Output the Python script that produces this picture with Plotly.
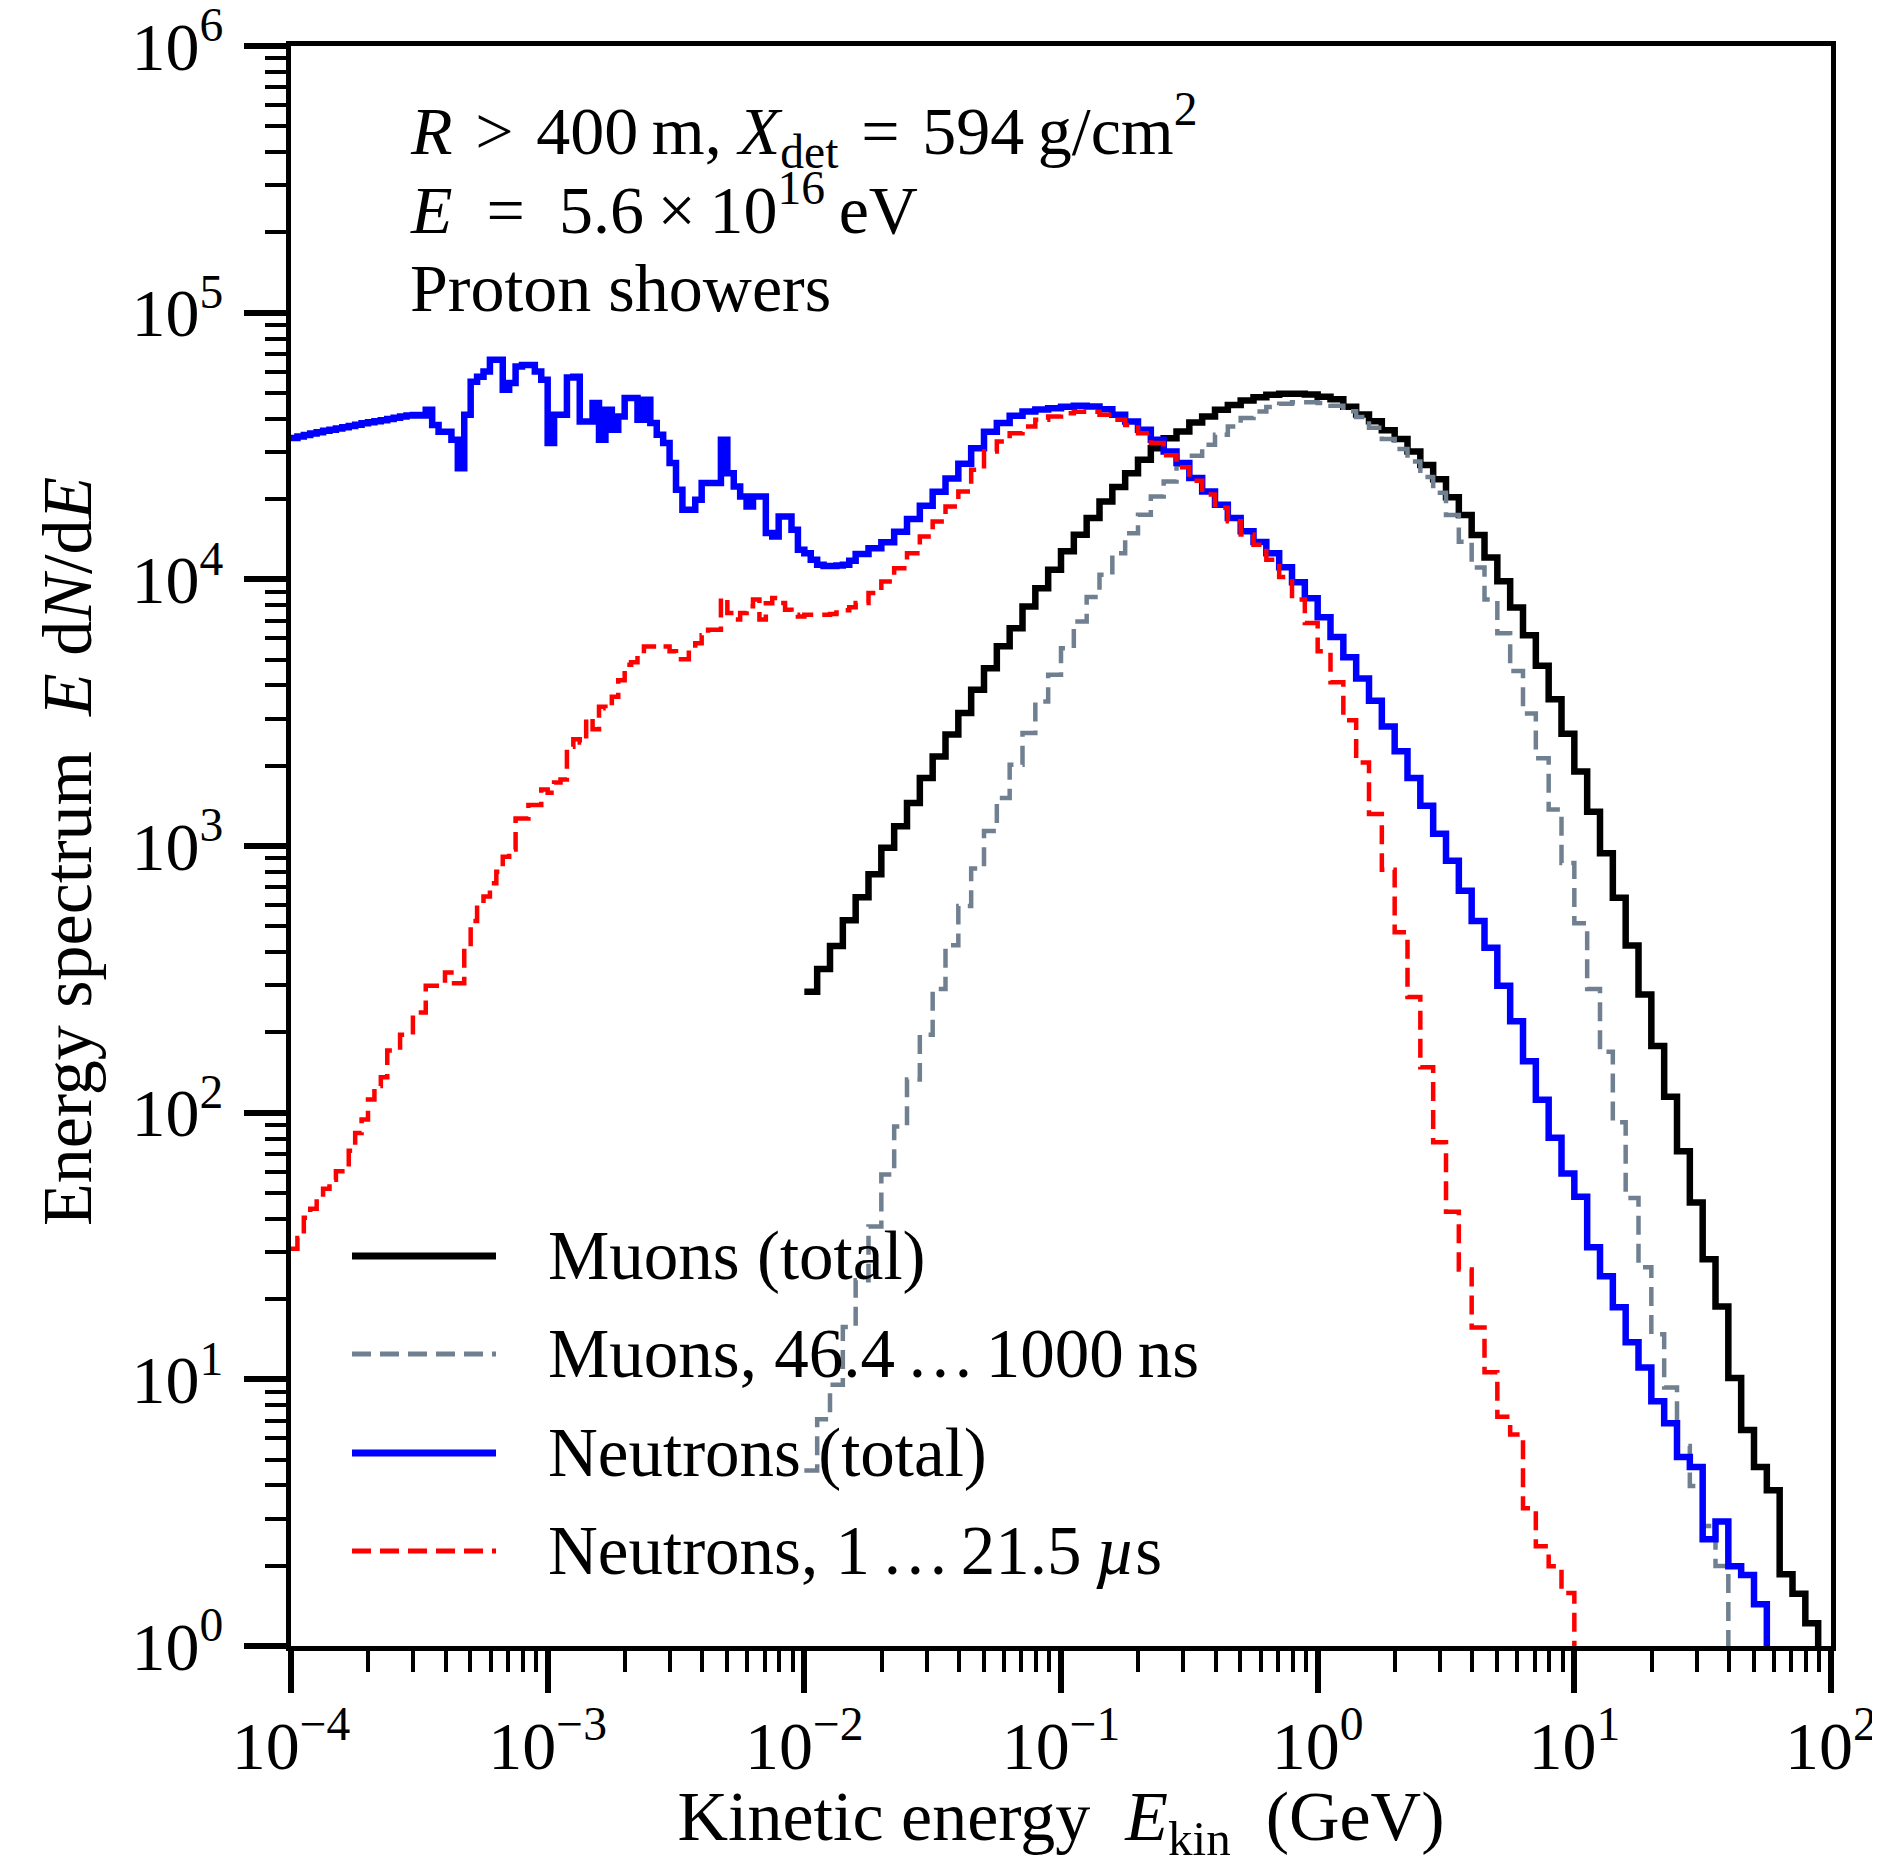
import numpy as np
import plotly.graph_objects as go

# ---------------- data (log10 of E dN/dE) ----------------
# Muon histograms: 20 log-bins per decade, first lower edge at log10(E/GeV) = -2.0
MUON_FIRST_EDGE = -2.0
MUON_BIN_WIDTH = 0.05

muons_total_log10 = [
    2.453, 2.539, 2.625, 2.722, 2.808, 2.894, 2.993, 3.074, 3.161, 3.255,
    3.336, 3.418, 3.499, 3.586, 3.667, 3.749, 3.817, 3.898, 3.967, 4.036,
    4.105, 4.167, 4.230, 4.292, 4.346, 4.398, 4.448, 4.492, 4.529, 4.554,
    4.588, 4.611, 4.636, 4.654, 4.671, 4.683, 4.692, 4.696, 4.696, 4.693,
    4.685, 4.675, 4.647, 4.618, 4.593, 4.559, 4.526, 4.479, 4.429, 4.375,
    4.308, 4.241, 4.166, 4.082, 3.993, 3.894, 3.790, 3.676, 3.550, 3.421,
    3.279, 3.128, 2.973, 2.806, 2.627, 2.443, 2.250, 2.060, 1.855, 1.663,
    1.450, 1.273, 1.005, 0.810, 0.671, 0.584, 0.269, 0.196, 0.085]

muons_delayed_log10 = [
    0.658, 0.850, 0.980, 1.196, 1.372, 1.573, 1.768, 1.948, 2.124, 2.292,
    2.464, 2.628, 2.775, 2.916, 3.056, 3.180, 3.305, 3.424, 3.542, 3.642,
    3.742, 3.842, 3.934, 4.017, 4.098, 4.173, 4.242, 4.311, 4.367, 4.430,
    4.463, 4.505, 4.542, 4.573, 4.605, 4.629, 4.646, 4.658, 4.664, 4.664,
    4.661, 4.651, 4.630, 4.609, 4.568, 4.526, 4.489, 4.442, 4.384, 4.325,
    4.241, 4.141, 4.044, 3.924, 3.798, 3.656, 3.497, 3.329, 3.137, 2.936,
    2.710, 2.464, 2.228, 1.964, 1.680, 1.420, 1.169, 0.969, 0.750, 0.600,
    0.450, 0.300]

# Neutron histograms: 40 bins/decade from 1e-4 GeV, 20 bins/decade above 10^-1.8 GeV
NEUTRON_FINE_FIRST_EDGE = -4.0
NEUTRON_FINE_BIN_WIDTH = 0.025
NEUTRON_COARSE_FIRST_EDGE = -1.8
NEUTRON_COARSE_BIN_WIDTH = 0.05

neutrons_total_fine_log10 = [
    4.530, 4.536, 4.541, 4.547, 4.552, 4.557, 4.561, 4.566, 4.570, 4.575,
    4.580, 4.585, 4.589, 4.593, 4.597, 4.601, 4.606, 4.611, 4.614, 4.616,
    4.614, 4.636, 4.579, 4.553, 4.553, 4.523, 4.417, 4.617, 4.741, 4.760,
    4.779, 4.823, 4.823, 4.711, 4.736, 4.798, 4.804, 4.804, 4.779, 4.748,
    4.511, 4.617, 4.617, 4.757, 4.760, 4.592, 4.592, 4.661, 4.523, 4.636,
    4.561, 4.611, 4.680, 4.680, 4.598, 4.673, 4.586, 4.542, 4.511, 4.436,
    4.336, 4.261, 4.261, 4.298, 4.361, 4.361, 4.361, 4.523, 4.398, 4.348,
    4.311, 4.273, 4.311, 4.311, 4.174, 4.161, 4.236, 4.236, 4.186, 4.111,
    4.098, 4.073, 4.055, 4.050, 4.050, 4.052, 4.055, 4.070]

neutrons_total_coarse_log10 = [
    4.095, 4.117, 4.139, 4.178, 4.226, 4.276, 4.328, 4.378, 4.433, 4.492,
    4.553, 4.586, 4.613, 4.629, 4.637, 4.642, 4.647, 4.651, 4.648, 4.638,
    4.617, 4.592, 4.561, 4.523, 4.479, 4.436, 4.380, 4.329, 4.280, 4.230,
    4.180, 4.140, 4.098, 4.045, 3.989, 3.929, 3.858, 3.784, 3.708, 3.628,
    3.545, 3.448, 3.355, 3.255, 3.151, 3.046, 2.945, 2.832, 2.719, 2.618,
    2.476, 2.343, 2.193, 2.048, 1.906, 1.772, 1.685, 1.495, 1.387, 1.270,
    1.139, 1.044, 0.918, 0.835, 0.709, 0.671, 0.400, 0.467, 0.299, 0.266,
    0.157]

neutrons_delayed_fine_log10 = [
    1.490, 1.530, 1.606, 1.640, 1.681, 1.715, 1.748, 1.780, 1.798, 1.857,
    1.924, 1.974, 2.049, 2.100, 2.133, 2.233, 2.233, 2.292, 2.292, 2.376,
    2.376, 2.476, 2.476, 2.476, 2.526, 2.485, 2.485, 2.618, 2.719, 2.780,
    2.811, 2.860, 2.903, 2.960, 2.987, 3.103, 3.103, 3.154, 3.154, 3.212,
    3.200, 3.238, 3.249, 3.372, 3.400, 3.388, 3.480, 3.438, 3.522, 3.517,
    3.560, 3.622, 3.680, 3.689, 3.720, 3.748, 3.748, 3.745, 3.748, 3.730,
    3.700, 3.700, 3.735, 3.760, 3.790, 3.811, 3.811, 3.930, 3.874, 3.849,
    3.874, 3.899, 3.924, 3.849, 3.910, 3.930, 3.911, 3.886, 3.867, 3.861,
    3.867, 3.867, 3.867, 3.867, 3.870, 3.876, 3.884, 3.895]

neutrons_delayed_coarse_log10 = [
    3.911, 3.949, 3.992, 4.042, 4.098, 4.161, 4.217, 4.273, 4.329, 4.411,
    4.479, 4.517, 4.548, 4.573, 4.598, 4.611, 4.623, 4.628, 4.628, 4.617,
    4.598, 4.579, 4.548, 4.511, 4.465, 4.420, 4.370, 4.318, 4.268, 4.218,
    4.168, 4.130, 4.073, 4.009, 3.924, 3.836, 3.730, 3.614, 3.472, 3.313,
    3.120, 2.911, 2.677, 2.434, 2.170, 1.889, 1.628, 1.412, 1.194, 1.027,
    0.860, 0.793, 0.517, 0.374, 0.299, 0.199]

ELLIPSIS = "\u2009.\u200a.\u200a.\u2009"
series_names = ["Muons (total)",
                "Muons, 46.4" + ELLIPSIS + "1000\u2009ns",
                "Neutrons (total)",
                "Neutrons, 1" + ELLIPSIS + "21.5\u2009<i>\u00b5</i>s"]

x_tick_exponents = [-4, -3, -2, -1, 0, 1, 2]
y_tick_exponents = [0, 1, 2, 3, 4, 5, 6]

x_title = "Kinetic energy\u2002<i>E</i><sub>kin</sub>\u2002(GeV)"
y_title = "Energy spectrum\u2002<i>E</i> d<i>N</i>/d<i>E</i>"

SP = "\u2004"
info_lines = ["<i>R</i>" + SP + ">" + SP + "400\u2009m, <i>X</i><sub>det</sub>" + SP + "=" + SP
              + "594\u2009g/cm<sup>2</sup>",
              "<i>E</i>\u2002=\u20025.6\u2009\u00d7\u200910<sup>16</sup>\u2009eV",
              "Proton showers"]

# ---------------- helpers ----------------
FLOOR = 1e-3  # below the visible range: closes the last bin down to the axis


def edges_from(first, width, n):
    return first + width * np.arange(n + 1)


def step_xy(log_edges, log_vals):
    x = np.power(10.0, log_edges)
    y = list(np.power(10.0, np.asarray(log_vals))) + [FLOOR]
    return x, y


muon_edges_total = edges_from(MUON_FIRST_EDGE, MUON_BIN_WIDTH, len(muons_total_log10))
muon_edges_delayed = edges_from(MUON_FIRST_EDGE, MUON_BIN_WIDTH, len(muons_delayed_log10))


def neutron_edges(n_fine, n_coarse):
    fine = NEUTRON_FINE_FIRST_EDGE + NEUTRON_FINE_BIN_WIDTH * np.arange(n_fine)
    coarse = edges_from(NEUTRON_COARSE_FIRST_EDGE, NEUTRON_COARSE_BIN_WIDTH, n_coarse)
    return np.concatenate([fine, coarse])


n_total_edges = neutron_edges(len(neutrons_total_fine_log10), len(neutrons_total_coarse_log10))
n_delayed_edges = neutron_edges(len(neutrons_delayed_fine_log10), len(neutrons_delayed_coarse_log10))

FONT = "Liberation Serif, Times New Roman, serif"
COLORS = ["#000000", "#708090", "#0000ff", "#ff0000"]
WIDTHS = [6.5, 4.5, 6.5, 4.5]
DASHES = ["solid", "19px,9px", "solid", "19px,9px"]

fig = go.Figure()

series = [
    (muon_edges_total, muons_total_log10),
    (muon_edges_delayed, muons_delayed_log10),
    (n_total_edges, neutrons_total_fine_log10 + neutrons_total_coarse_log10),
    (n_delayed_edges, neutrons_delayed_fine_log10 + neutrons_delayed_coarse_log10),
]

for i, (edges, vals) in enumerate(series):
    x, y = step_xy(edges, vals)
    fig.add_trace(go.Scatter(
        x=x, y=y, mode="lines", name=series_names[i], showlegend=False,
        line=dict(color=COLORS[i], width=WIDTHS[i], dash=DASHES[i], shape="hv"),
        hoverinfo="skip"))

# ---------------- axes ----------------
def sup_label(e):
    s = str(e).replace("-", "\u2212")
    return "10<sup>" + s + "</sup>"


def minor_vals(lo, hi):
    return [m * 10.0 ** e for e in range(lo, hi) for m in range(2, 10)]


axis_common = dict(
    type="log", showgrid=False, zeroline=False, automargin=False,
    showline=True, mirror=True, linewidth=5, linecolor="black",
    ticks="outside", ticklen=42, tickwidth=6, tickcolor="black",
    tickfont=dict(family=FONT, size=68, color="black"),
    tickmode="array", ticklabeloverflow="allow",
)

fig.update_xaxes(
    **axis_common,
    range=[-4, 2],
    tickvals=[10.0 ** e for e in x_tick_exponents],
    ticktext=[sup_label(e) for e in x_tick_exponents],
    minor=dict(ticks="outside", ticklen=21, tickwidth=3.5, tickcolor="black",
               tickmode="array", tickvals=minor_vals(-4, 2), showgrid=False),
    ticklabelstandoff=-6,
    title=dict(text=x_title, font=dict(family=FONT, size=70, color="black"), standoff=36),
)
fig.update_yaxes(
    **axis_common,
    range=[0, 6],
    tickvals=[10.0 ** e for e in y_tick_exponents],
    ticktext=[sup_label(e) for e in y_tick_exponents],
    minor=dict(ticks="outside", ticklen=21, tickwidth=3.5, tickcolor="black",
               tickmode="array", tickvals=minor_vals(0, 6), showgrid=False),
    ticklabelstandoff=7,
)

# ---------------- page geometry (plot area in page pixels) ----------------
PAGE_OFFSET = 8            # default body margin of the html page
PLOT_LEFT, PLOT_RIGHT = 291, 1831
PLOT_TOP, PLOT_BOTTOM = 46, 1646
FIG_W, FIG_H = 1880 - PAGE_OFFSET, 1866 - PAGE_OFFSET


def paper_y(px):
    return 1 - (px - PLOT_TOP) / (PLOT_BOTTOM - PLOT_TOP)


def paper_x(px):
    return (px - PLOT_LEFT) / (PLOT_RIGHT - PLOT_LEFT)


annotations = []

# y-axis title (rotated)
annotations.append(dict(text=y_title, xref="paper", yref="paper",
                        x=paper_x(67), y=paper_y(852), xanchor="center", yanchor="middle",
                        textangle=-90, showarrow=False,
                        font=dict(family=FONT, size=70, color="black")))

# ---------------- text block ----------------
info_px = [131, 205, 288]
for txt, py in zip(info_lines, info_px):
    annotations.append(dict(text=txt, xref="paper", yref="paper", x=paper_x(408), y=paper_y(py),
                            xanchor="left", yanchor="middle", showarrow=False,
                            font=dict(family=FONT, size=68, color="black")))

# ---------------- legend (drawn) ----------------
legend_px = [1256, 1354, 1453, 1551]
shapes = []
for i, py in enumerate(legend_px):
    yy = paper_y(py)
    shapes.append(dict(type="line", xref="paper", yref="paper",
                       x0=paper_x(352), x1=paper_x(496), y0=yy, y1=yy,
                       line=dict(color=COLORS[i], width=WIDTHS[i] + 0.5, dash=DASHES[i])))
    annotations.append(dict(text=series_names[i], xref="paper", yref="paper",
                            x=paper_x(546), y=yy, xanchor="left", yanchor="middle",
                            showarrow=False,
                            font=dict(family=FONT, size=69, color="black")))

fig.update_layout(
    template="none",
    width=FIG_W, height=FIG_H,
    margin=dict(l=PLOT_LEFT - PAGE_OFFSET, r=FIG_W - (PLOT_RIGHT - PAGE_OFFSET),
                t=PLOT_TOP - PAGE_OFFSET, b=FIG_H - (PLOT_BOTTOM - PAGE_OFFSET)),
    paper_bgcolor="white", plot_bgcolor="white",
    showlegend=False,
    annotations=annotations, shapes=shapes,
)

fig.write_html("out.html")
